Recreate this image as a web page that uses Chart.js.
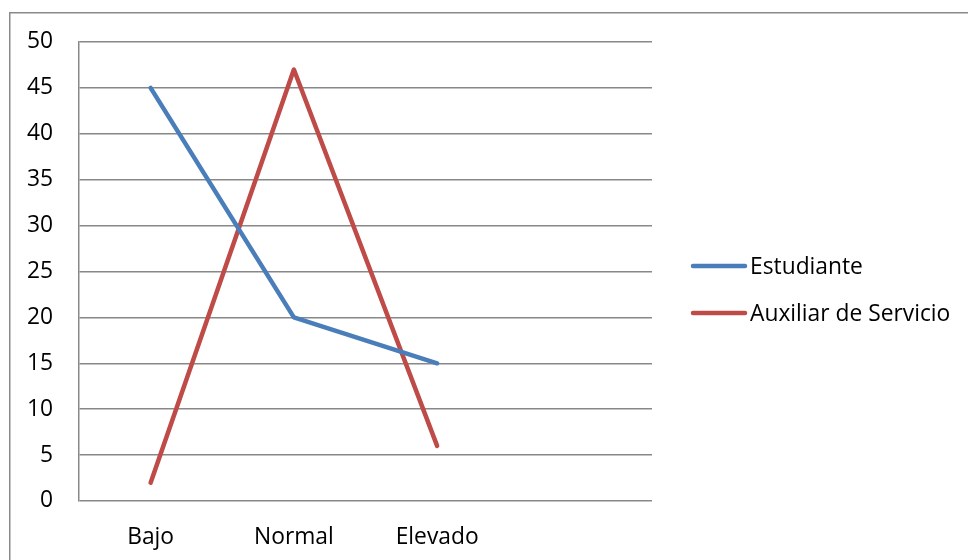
<!DOCTYPE html>
<html>
<head>
<meta charset="utf-8">
<script src="https://cdn.jsdelivr.net/npm/chart.js@4"></script>
<style>
  html, body { margin: 0; padding: 0; background: #ffffff; }
  #wrap { position: relative; width: 968px; height: 560px; }
</style>
</head>
<body>
<div id="wrap"><canvas id="c" width="968" height="560"></canvas></div>
<script>
// Categories (the trailing empty slot keeps the spacing of the x axis)
const categories = ['Bajo', 'Normal', 'Elevado', ''];
const estudiante = [45, 20, 15, null];
const auxiliar = [2, 47, 6, null];
const seriesNames = ['Estudiante', 'Auxiliar de Servicio'];
const yTicks = [0, 5, 10, 15, 20, 25, 30, 35, 40, 45, 50];

const FONT = '"Open Sans", Lato, sans-serif';
const FONT_SIZE = 22.8;
const GRID = '#888888';

// Outer frame of the chart object
const framePlugin = {
  id: 'frame',
  beforeDraw(chart) {
    const ctx = chart.ctx;
    ctx.save();
    ctx.fillStyle = '#ffffff';
    ctx.fillRect(0, 0, chart.width, chart.height);
    ctx.strokeStyle = '#8a8a8a';
    ctx.lineWidth = 1.5;
    ctx.strokeRect(9.75, 12.75, chart.width + 20, chart.height + 20);
    ctx.restore();
  }
};

// Legend on the right, drawn from the dataset labels and colours
const sideLegend = {
  id: 'sideLegend',
  afterDraw(chart) {
    const ctx = chart.ctx;
    const x0 = 693, x1 = 745, tx = 750;
    const ys = [266, 313];
    ctx.save();
    ctx.font = FONT_SIZE + 'px ' + FONT;
    ctx.textBaseline = 'middle';
    ctx.textAlign = 'left';
    chart.data.datasets.forEach((ds, i) => {
      ctx.strokeStyle = ds.borderColor;
      ctx.lineWidth = 4.5;
      ctx.lineCap = 'round';
      ctx.beginPath();
      ctx.moveTo(x0, ys[i]);
      ctx.lineTo(x1, ys[i]);
      ctx.stroke();
      ctx.fillStyle = '#000000';
      ctx.fillText(ds.label, tx, ys[i] + 2);
    });
    ctx.restore();
  }
};

new Chart(document.getElementById('c'), {
  type: 'line',
  data: {
    labels: categories,
    datasets: [
      {
        label: seriesNames[0],
        data: estudiante,
        borderColor: '#4a7ebb',
        borderWidth: 4.5,
        pointRadius: 0,
        borderCapStyle: 'round',
        borderJoinStyle: 'round',
        tension: 0
      },
      {
        label: seriesNames[1],
        data: auxiliar,
        borderColor: '#be4b48',
        borderWidth: 4.5,
        pointRadius: 0,
        borderCapStyle: 'round',
        borderJoinStyle: 'round',
        tension: 0
      }
    ]
  },
  options: {
    responsive: false,
    animation: false,
    devicePixelRatio: 1,
    layout: { padding: { left: 0, top: 42, right: 316, bottom: 0 } },
    plugins: {
      legend: { display: false },
      tooltip: { enabled: false }
    },
    scales: {
      x: {
        type: 'category',
        offset: true,
        grid: { display: false, drawTicks: false },
        border: { display: false },
        ticks: {
          color: '#000000',
          font: { family: FONT, size: FONT_SIZE },
          padding: 23,
          maxRotation: 0,
          autoSkip: false
        },
        afterFit(scale) { scale.height = 59; }
      },
      y: {
        min: 0,
        max: 50,
        afterBuildTicks(scale) { scale.ticks = yTicks.map(v => ({ value: v })); },
        grid: { color: GRID, lineWidth: 1.5, drawTicks: false },
        border: { display: true, color: GRID, width: 1.5 },
        ticks: {
          color: '#000000',
          font: { family: FONT, size: FONT_SIZE },
          padding: 26
        },
        afterFit(scale) { scale.width = 79; }
      }
    }
  },
  plugins: [framePlugin, sideLegend]
});
</script>
</body>
</html>
